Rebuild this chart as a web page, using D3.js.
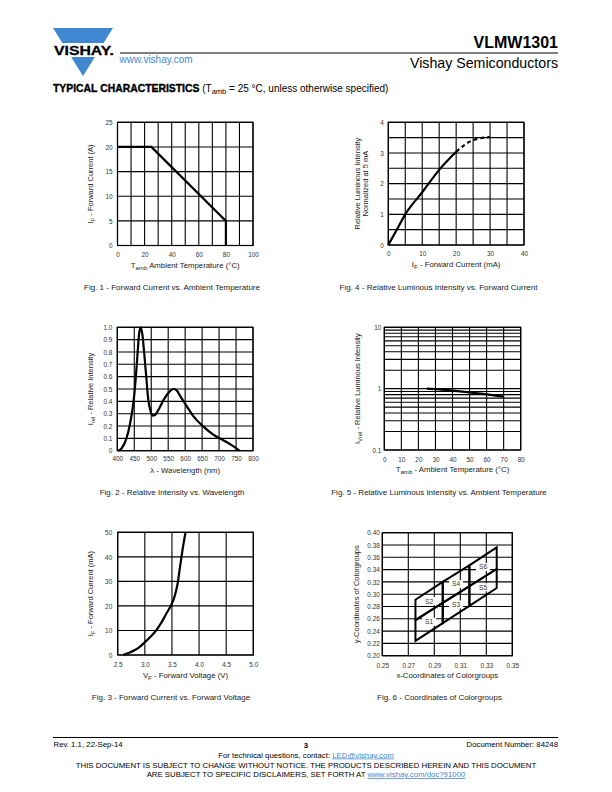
<!DOCTYPE html>
<html><head><meta charset="utf-8">
<script src="https://cdn.jsdelivr.net/npm/d3@7"></script>
<style>
body{margin:0;background:#fff}
svg{display:block}
text{font-family:"Liberation Sans",Arial,Helvetica,sans-serif}
</style>
</head><body>
<svg id="page" width="612" height="792"></svg>
<script>
// ---------- DATA ----------
// Fig. 1 - Forward Current vs. Ambient Temperature
const fig1Temp = [0, 25, 80, 80];
const fig1Current = [20, 20, 5, 0];
const fig1XTicks = [0, 20, 40, 60, 80, 100];
const fig1YTicks = [0, 5, 10, 15, 20, 25];

// Fig. 4 - Relative Luminous Intensity vs. Forward Current
const fig4Current = [0, 2.5, 5, 10, 15, 20];
const fig4Rel = [0, 0.5, 1.0, 1.72, 2.45, 3.04];
const fig4CurrentDash = [20, 25, 30];
const fig4RelDash = [3.04, 3.42, 3.52];
const fig4XTicks = [0, 10, 20, 30, 40];
const fig4YTicks = [0, 1, 2, 3, 4];

// Fig. 2 - Relative Intensity vs. Wavelength
const fig2Wave = [403, 413, 427, 437, 445, 450, 455, 460, 464, 469, 474, 479, 485, 491, 498, 504, 511, 521, 536, 551, 566, 576, 586, 605, 624, 654, 683, 712, 737, 760];
const fig2Rel  = [0, 0.02, 0.1, 0.21, 0.34, 0.45, 0.61, 0.8, 0.94, 1.0, 0.94, 0.8, 0.61, 0.42, 0.32, 0.285, 0.29, 0.33, 0.41, 0.47, 0.5, 0.485, 0.44, 0.36, 0.28, 0.195, 0.13, 0.085, 0.045, 0];
const fig2XTicks = [400, 450, 500, 550, 600, 650, 700, 750, 800];
const fig2YTicks = [0, 0.1, 0.2, 0.3, 0.4, 0.5, 0.6, 0.7, 0.8, 0.9, 1.0];

// Fig. 5 - Relative Luminous Intensity vs. Ambient Temperature
const fig5Temp = [25, 40, 55, 70];
const fig5Rel = [1.0, 0.93, 0.84, 0.74];
const fig5XTicks = [0, 10, 20, 30, 40, 50, 60, 70, 80];
const fig5YTicks = [0.1, 1, 10];
const fig5YGrid = [0.1,0.2,0.3,0.4,0.5,0.6,0.7,0.8,0.9,1,2,3,4,5,6,7,8,9,10];

// Fig. 3 - Forward Current vs. Forward Voltage
const fig3Volt = [2.6, 2.7, 2.8, 2.9, 3.0, 3.1, 3.2, 3.3, 3.4, 3.5, 3.55, 3.6, 3.65, 3.7, 3.75];
const fig3Current = [0, 0.8, 1.8, 3.2, 5.2, 7.3, 9.8, 13, 17, 21, 24, 28.5, 36, 43.5, 50];
const fig3XTicks = [2.5, 3.0, 3.5, 4.0, 4.5, 5.0];
const fig3YTicks = [0, 10, 20, 30, 40, 50];

// Fig. 6 - Coordinates of Colorgroups
const colorX = [0.2755, 0.2965, 0.317, 0.338];
const colorBottomY = [0.224, 0.253, 0.281, 0.310];
const colorMidY = [0.258, 0.286, 0.313, 0.341];
const colorTopY = [0.291, 0.320, 0.347, 0.376];
const colorGroups = ["S1", "S2", "S3", "S4", "S5", "S6"];
const fig6XTicks = [0.25, 0.27, 0.29, 0.31, 0.33, 0.35];
const fig6YTicks = [0.20,0.22,0.24,0.26,0.28,0.30,0.32,0.34,0.36,0.38,0.40];

// ---------- DRAW ----------
const svg = d3.select("#page");
const FONT = '"Liberation Sans",Arial,Helvetica,sans-serif';
const TICK = 6.4, XT = 7.8, YT = 7.5, CAP = 8;

function richText(sel, parts, size) {
  parts.forEach(p => {
    const t = sel.append("tspan").text(p.t);
    if (p.sub) { t.attr("dy", size*0.3).attr("font-size", size*0.78); }
    if (p.after) { t.attr("dy", -size*0.3); }
  });
}

function chart(c) {
  const g = svg.append("g");
  const x = d3.scaleLinear().domain(c.xDomain).range([c.left, c.right]);
  const y = (c.yLog ? d3.scaleLog() : d3.scaleLinear()).domain(c.yDomain).range([c.bottom, c.top]);
  g.selectAll(null).data(c.xGrid).enter().append("line")
    .attr("x1", d => x(d)).attr("x2", d => x(d)).attr("y1", c.top).attr("y2", c.bottom)
    .attr("stroke", "#000").attr("stroke-width", 1.1);
  g.selectAll(null).data(c.yGrid).enter().append("line")
    .attr("y1", d => y(d)).attr("y2", d => y(d)).attr("x1", c.left).attr("x2", c.right)
    .attr("stroke", "#000").attr("stroke-width", 1.1);
  g.append("rect").attr("x", c.left).attr("y", c.top).attr("width", c.right - c.left).attr("height", c.bottom - c.top)
    .attr("fill", "none").attr("stroke", "#000").attr("stroke-width", 1.2);
  const xa = d3.axisBottom(x).tickValues(c.xTicks).tickFormat(c.xFmt).tickSize(0).tickPadding(0);
  const xg = g.append("g").attr("transform", `translate(0,${c.bottom + c.xLabGap})`).call(xa);
  xg.select(".domain").remove();
  xg.selectAll("text").attr("font-family", FONT).attr("font-size", TICK).attr("fill", "#333").attr("dy", "0");
  const ya = d3.axisLeft(y).tickValues(c.yTicks).tickFormat(c.yFmt).tickSize(0).tickPadding(0);
  const yg = g.append("g").attr("transform", `translate(${c.left - c.yLabGap},0)`).call(ya);
  yg.select(".domain").remove();
  yg.selectAll("text").attr("font-family", FONT).attr("font-size", TICK).attr("fill", "#333").attr("dy", "0.34em");
  const xt = g.append("text").attr("x", (c.left + c.right) / 2).attr("y", c.bottom + c.xTitleGap)
    .attr("text-anchor", "middle").attr("font-size", XT).attr("fill", "#222");
  richText(xt, c.xTitle, XT);
  c.yTitles.forEach((yt, i) => {
    const t = g.append("text")
      .attr("transform", `translate(${c.yTitleX[i]},${(c.top + c.bottom) / 2}) rotate(-90)`)
      .attr("text-anchor", "middle").attr("font-size", YT).attr("fill", "#222");
    richText(t, yt, YT);
  });
  g.append("text").attr("x", c.capX).attr("y", c.capY).attr("text-anchor", "middle")
    .attr("font-size", CAP).attr("fill", "#222").text(c.caption);
  return { g, x, y };
}

const fmtInt = d3.format("d");

// Fig 1
{
  const c = chart({ left: 117.5, right: 253, top: 122.3, bottom: 245.5, xDomain: [0, 100], yDomain: [0, 25],
    xGrid: d3.range(0, 101, 10), yGrid: d3.range(0, 26, 5), xTicks: fig1XTicks, yTicks: fig1YTicks,
    xFmt: fmtInt, yFmt: fmtInt, xLabGap: 11, yLabGap: 5, xTitleGap: 22,
    xTitle: [{ t: "T" }, { t: "amb", sub: true }, { t: " Ambient Temperature (°C)", after: true }],
    yTitles: [[{ t: "I" }, { t: "F", sub: true }, { t: " - Forward Current (A)", after: true }]], yTitleX: [92.5],
    caption: "Fig. 1 - Forward Current vs. Ambient Temperature", capX: 172, capY: 290 });
  c.g.append("path").datum(d3.zip(fig1Temp, fig1Current))
    .attr("d", d3.line().x(d => c.x(d[0])).y(d => c.y(d[1])))
    .attr("fill", "none").attr("stroke", "#000").attr("stroke-width", 2.2);
}
// Fig 4
{
  const c = chart({ left: 388.3, right: 524, top: 122.3, bottom: 245, xDomain: [0, 40], yDomain: [0, 4],
    xGrid: d3.range(0, 41, 5), yGrid: d3.range(0, 4.01, 0.5), xTicks: fig4XTicks, yTicks: fig4YTicks,
    xFmt: fmtInt, yFmt: fmtInt, xLabGap: 10.5, yLabGap: 4.5, xTitleGap: 22,
    xTitle: [{ t: "I" }, { t: "F", sub: true }, { t: " - Forward Current (mA)", after: true }],
    yTitles: [[{ t: "Relative Luminous Intensity" }], [{ t: "Normalized at 5 mA" }]], yTitleX: [360, 368],
    caption: "Fig. 4 - Relative Luminous Intensity vs. Forward Current", capX: 438.5, capY: 290 });
  const ln = d3.line().x(d => c.x(d[0])).y(d => c.y(d[1])).curve(d3.curveMonotoneX);
  c.g.append("path").datum(d3.zip(fig4Current, fig4Rel)).attr("d", ln)
    .attr("fill", "none").attr("stroke", "#000").attr("stroke-width", 2.2);
  c.g.append("path").datum(d3.zip(fig4CurrentDash, fig4RelDash)).attr("d", ln)
    .attr("fill", "none").attr("stroke", "#000").attr("stroke-width", 2.2).attr("stroke-dasharray", "4,3");
}
// Fig 2
{
  const c = chart({ left: 117.3, right: 253, top: 327.3, bottom: 450.7, xDomain: [400, 800], yDomain: [0, 1],
    xGrid: fig2XTicks, yGrid: fig2YTicks, xTicks: fig2XTicks, yTicks: fig2YTicks,
    xFmt: fmtInt, yFmt: d => d === 0 ? "0" : d3.format(".1f")(d), xLabGap: 10.5, yLabGap: 5, xTitleGap: 22,
    xTitle: [{ t: "λ - Wavelength (nm)" }],
    yTitles: [[{ t: "I" }, { t: "rel", sub: true }, { t: " - Relative Intensity", after: true }]], yTitleX: [92.5],
    caption: "Fig. 2 - Relative Intensity vs. Wavelength", capX: 172, capY: 494.5 });
  c.g.append("path").datum(d3.zip(fig2Wave, fig2Rel))
    .attr("d", d3.line().x(d => c.x(d[0])).y(d => c.y(d[1])).curve(d3.curveMonotoneX))
    .attr("fill", "none").attr("stroke", "#000").attr("stroke-width", 2.2);
}
// Fig 5
{
  const c = chart({ left: 384.3, right: 520.7, top: 327.3, bottom: 450, xDomain: [0, 80], yDomain: [0.1, 10], yLog: true,
    xGrid: fig5XTicks, yGrid: fig5YGrid, xTicks: fig5XTicks, yTicks: fig5YTicks,
    xFmt: fmtInt, yFmt: d => String(d), xLabGap: 12, yLabGap: 3, xTitleGap: 21.5,
    xTitle: [{ t: "T" }, { t: "amb", sub: true }, { t: " - Ambient Temperature (°C)", after: true }],
    yTitles: [[{ t: "I" }, { t: "Vrel", sub: true }, { t: " - Relative Luminous Intensity", after: true }]], yTitleX: [360],
    caption: "Fig. 5 - Relative Luminous Intensity vs. Ambient Temperature", capX: 439, capY: 494.5 });
  c.g.append("path").datum(d3.zip(fig5Temp, fig5Rel))
    .attr("d", d3.line().x(d => c.x(d[0])).y(d => c.y(d[1])).curve(d3.curveMonotoneX))
    .attr("fill", "none").attr("stroke", "#000").attr("stroke-width", 2.2);
}
// Fig 3
{
  const c = chart({ left: 117.7, right: 253.3, top: 532.3, bottom: 655, xDomain: [2.5, 5.0], yDomain: [0, 50],
    xGrid: fig3XTicks, yGrid: fig3YTicks, xTicks: fig3XTicks, yTicks: fig3YTicks,
    xFmt: d3.format(".1f"), yFmt: fmtInt, xLabGap: 11.5, yLabGap: 5.5, xTitleGap: 22.5,
    xTitle: [{ t: "V" }, { t: "F", sub: true }, { t: " - Forward Voltage (V)", after: true }],
    yTitles: [[{ t: "I" }, { t: "F", sub: true }, { t: " - Forward Current (mA)", after: true }]], yTitleX: [92.5],
    caption: "Fig. 3 - Forward Current vs. Forward Voltage", capX: 171, capY: 699.5 });
  c.g.append("path").datum(d3.zip(fig3Volt, fig3Current))
    .attr("d", d3.line().x(d => c.x(d[0])).y(d => c.y(d[1])).curve(d3.curveMonotoneX))
    .attr("fill", "none").attr("stroke", "#000").attr("stroke-width", 2.2);
}
// Fig 6
{
  const c = chart({ left: 382.3, right: 512.3, top: 532.7, bottom: 655.7, xDomain: [0.25, 0.35], yDomain: [0.20, 0.40],
    xGrid: fig6XTicks, yGrid: fig6YTicks, xTicks: fig6XTicks, yTicks: fig6YTicks,
    xFmt: d3.format(".2f"), yFmt: d3.format(".2f"), xLabGap: 12, yLabGap: 2.5, xTitleGap: 22,
    xTitle: [{ t: "x-Coordinates of Colorgroups" }],
    yTitles: [[{ t: "y-Coordinates of Colorgroups" }]], yTitleX: [359],
    caption: "Fig. 6 - Coordinates of Colorgroups", capX: 439.5, capY: 699.5 });
  const polys = [];
  for (let i = 0; i < 3; i++) {
    polys.push([[colorX[i], colorBottomY[i]], [colorX[i + 1], colorBottomY[i + 1]], [colorX[i + 1], colorMidY[i + 1]], [colorX[i], colorMidY[i]]]);
    polys.push([[colorX[i], colorMidY[i]], [colorX[i + 1], colorMidY[i + 1]], [colorX[i + 1], colorTopY[i + 1]], [colorX[i], colorTopY[i]]]);
  }
  const cen = polys.map(p => [d3.mean(p, q => c.x(q[0])), d3.mean(p, q => c.y(q[1]))]);
  c.g.selectAll(null).data(cen).enter().append("rect")
    .attr("x", d => d[0] - 7).attr("y", d => d[1] - 4).attr("width", 14).attr("height", 8).attr("fill", "#fff");
  c.g.selectAll(null).data(polys).enter().append("path")
    .attr("d", p => "M" + p.map(q => [c.x(q[0]), c.y(q[1])].join(",")).join("L") + "Z")
    .attr("fill", "none").attr("stroke", "#000").attr("stroke-width", 2).attr("stroke-linejoin", "miter");
  c.g.selectAll(null).data(cen).enter().append("text")
    .attr("x", d => d[0]).attr("y", d => d[1] + 2.4).attr("text-anchor", "middle")
    .attr("font-size", 6.6).attr("fill", "#333").text((d, i) => colorGroups[i]);
}

// ---------- HEADER ----------
const blue = "#3f87d0";
svg.append("path").attr("d", "M53,28 L113,28 L83,76 Z").attr("fill", blue);
svg.append("rect").attr("x", 50).attr("y", 43).attr("width", 68).attr("height", 14).attr("fill", "#fff");
svg.append("text").attr("x", 54).attr("y", 55).attr("font-size", 13.5).attr("font-weight", "bold")
  .attr("stroke", "#000").attr("stroke-width", 0.3)
  .attr("textLength", 60).attr("lengthAdjust", "spacingAndGlyphs").text("VISHAY.");
svg.append("line").attr("x1", 120).attr("x2", 558).attr("y1", 53).attr("y2", 53).attr("stroke", "#000").attr("stroke-width", 1);
svg.append("text").attr("x", 558).attr("y", 47.5).attr("text-anchor", "end").attr("font-size", 16).attr("font-weight", "bold").text("VLMW1301");
svg.append("text").attr("x", 119.5).attr("y", 62.5).attr("font-size", 10).attr("fill", blue).text("www.vishay.com");
svg.append("text").attr("x", 558).attr("y", 68).attr("text-anchor", "end").attr("font-size", 14.2).text("Vishay Semiconductors");
{
  const t = svg.append("text").attr("x", 53).attr("y", 91.5).attr("font-size", 10);
  t.append("tspan").attr("font-weight", "bold").attr("font-size", 10.4).attr("stroke", "#000").attr("stroke-width", 0.35).text("TYPICAL CHARACTERISTICS");
  t.append("tspan").text(" (T");
  t.append("tspan").attr("font-size", 7.5).attr("dy", 2.5).text("amb");
  t.append("tspan").attr("dy", -2.5).text(" = 25 °C, unless otherwise specified)");
}

// ---------- FOOTER ----------
const FT = 7.8;
svg.append("line").attr("x1", 53).attr("x2", 558).attr("y1", 737.5).attr("y2", 737.5).attr("stroke", "#000").attr("stroke-width", 1);
svg.append("text").attr("x", 53.5).attr("y", 746.5).attr("font-size", FT).text("Rev. 1.1, 22-Sep-14");
svg.append("text").attr("x", 306).attr("y", 747.5).attr("font-size", FT).attr("font-weight", "bold").attr("text-anchor", "middle").text("3");
svg.append("text").attr("x", 558).attr("y", 746.5).attr("font-size", FT).attr("text-anchor", "end").text("Document Number: 84248");
{
  const t = svg.append("text").attr("x", 306).attr("y", 757.5).attr("font-size", FT).attr("text-anchor", "middle");
  t.append("tspan").text("For technical questions, contact: ");
  t.append("tspan").attr("fill", blue).attr("text-decoration", "underline").text("LED@vishay.com");
}
svg.append("text").attr("x", 306).attr("y", 768).attr("font-size", FT).attr("text-anchor", "middle")
  .text("THIS DOCUMENT IS SUBJECT TO CHANGE WITHOUT NOTICE. THE PRODUCTS DESCRIBED HEREIN AND THIS DOCUMENT");
{
  const t = svg.append("text").attr("x", 306).attr("y", 777).attr("font-size", FT).attr("text-anchor", "middle");
  t.append("tspan").text("ARE SUBJECT TO SPECIFIC DISCLAIMERS, SET FORTH AT ");
  t.append("tspan").attr("fill", blue).attr("text-decoration", "underline").text("www.vishay.com/doc?91000");
}
</script>
</body></html>
